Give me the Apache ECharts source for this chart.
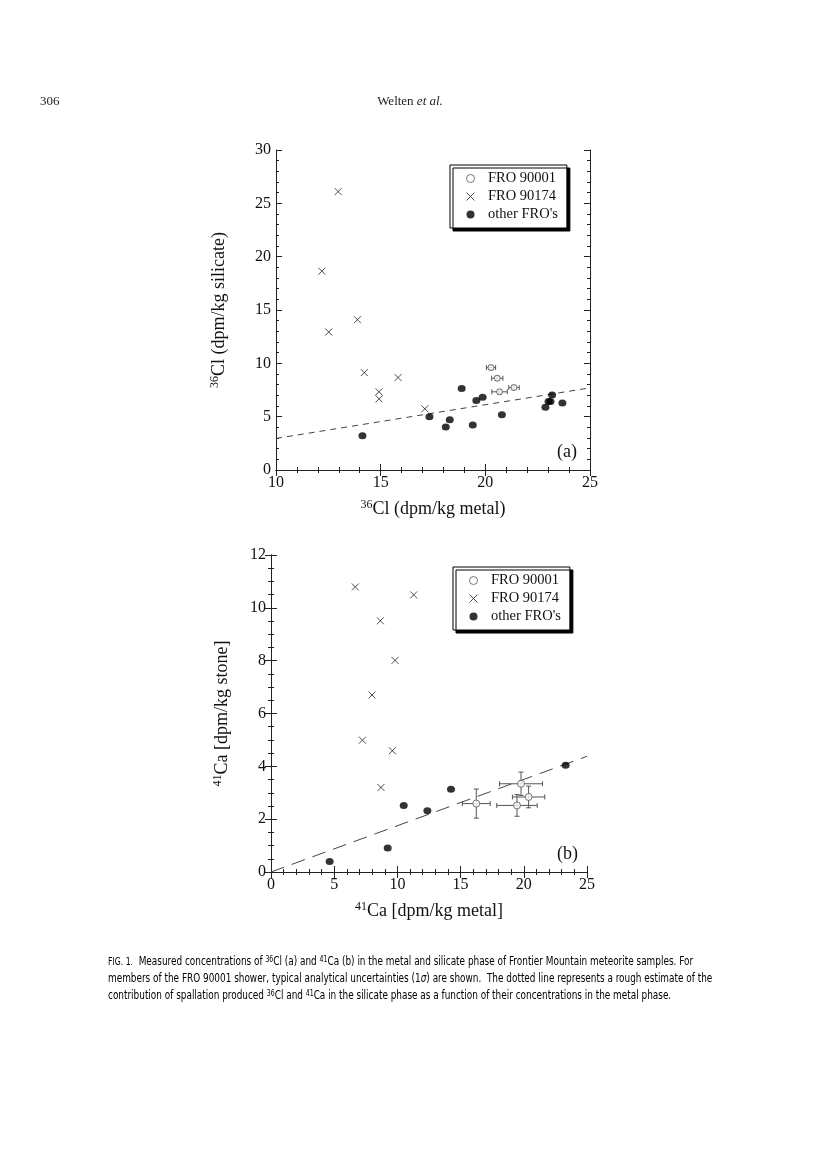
<!DOCTYPE html>
<html>
<head>
<meta charset="utf-8">
<script src="https://cdn.jsdelivr.net/npm/echarts@6/dist/echarts.min.js"></script>
<style>
html,body{margin:0;padding:0;background:#fff;}
#c{width:820px;height:1155px;}
</style>
</head>
<body>
<div id="c"></div>
<script>
// ---------- Panel (a): 36Cl ----------
const a_fro90001 = [[20.27, 9.6], [20.57, 8.6], [20.68, 7.33], [21.37, 7.73]];
const a_fro90001_xerr = [0.22, 0.27, 0.37, 0.25];
const a_fro90001_yerr = [0.2, 0.2, 0.2, 0.2];
const a_fro90174 = [[12.97, 26.1], [12.19, 18.64], [12.52, 12.94], [13.89, 14.09], [14.22, 9.13],
  [14.92, 7.33], [14.92, 6.67], [15.83, 8.67], [17.11, 5.74]];
const a_others = [[14.13, 3.21], [17.33, 4.99], [18.30, 4.71], [18.11, 4.02], [18.87, 7.64],
  [19.40, 4.21], [19.57, 6.51], [19.87, 6.83], [20.79, 5.17], [22.87, 5.89], [23.02, 6.42],
  [23.11, 6.42], [23.19, 7.04], [23.68, 6.27]];
const a_line = [[10, 2.96], [25, 7.7]];

// ---------- Panel (b): 41Ca ----------
const b_fro90001 = [[16.24, 2.59], [19.78, 3.34], [20.38, 2.84], [19.46, 2.52]];
const b_fro90001_xerr = [1.1, 1.7, 1.28, 1.6];
const b_fro90001_yerr = [0.55, 0.44, 0.41, 0.41];
const b_fro90174 = [[6.67, 10.79], [11.29, 10.49], [8.65, 9.51], [9.81, 8.01], [7.99, 6.70],
  [7.23, 4.99], [9.60, 4.59], [8.70, 3.20]];
const b_others = [[4.64, 0.40], [9.23, 0.91], [10.50, 2.52], [12.37, 2.32], [14.24, 3.13], [23.31, 4.04]];
const b_line = [[0, 0], [25, 4.38]];

const names = ['FRO 90001', 'FRO 90174', "other FRO's"];
const crossPath = 'path://M0,0L10,10M10,0L0,10';
const SERIF = "'Liberation Serif','Times New Roman',serif";

function errData(pts, xe, ye) {
  return pts.map((p, i) => [p[0], p[1], xe[i], ye[i]]);
}
function errRender(params, api) {
  const x = api.value(0), y = api.value(1), xe = api.value(2), ye = api.value(3);
  const c = api.coord([x, y]);
  const l = api.coord([x - xe, y]), r = api.coord([x + xe, y]);
  const t = api.coord([x, y + ye]), b = api.coord([x, y - ye]);
  const cap = 2.5;
  const st = {stroke: '#555', lineWidth: 1};
  return {type: 'group', children: [
    {type: 'line', shape: {x1: l[0], y1: c[1], x2: r[0], y2: c[1]}, style: st},
    {type: 'line', shape: {x1: l[0], y1: c[1] - cap, x2: l[0], y2: c[1] + cap}, style: st},
    {type: 'line', shape: {x1: r[0], y1: c[1] - cap, x2: r[0], y2: c[1] + cap}, style: st},
    {type: 'line', shape: {x1: c[0], y1: t[1], x2: c[0], y2: b[1]}, style: st},
    {type: 'line', shape: {x1: c[0] - cap, y1: t[1], x2: c[0] + cap, y2: t[1]}, style: st},
    {type: 'line', shape: {x1: c[0] - cap, y1: b[1], x2: c[0] + cap, y2: b[1]}, style: st}
  ]};
}

function axisBase(min, max, interval, split, showLabel, pos, grid) {
  return {
    type: 'value', gridIndex: grid, min: min, max: max, interval: interval, position: pos,
    axisLine: {show: true, lineStyle: {color: '#222', width: 1}},
    axisTick: {show: true, inside: true, length: 6, lineStyle: {color: '#222'}},
    minorTick: {show: true, splitNumber: split, length: 3, lineStyle: {color: '#222'}},
    splitLine: {show: false}, minorSplitLine: {show: false},
    axisLabel: {show: showLabel, color: '#111', fontFamily: SERIF, fontSize: 16, margin: 5}
  };
}

const rich = {
  sup: {fontSize: 12, fontFamily: SERIF, color: '#111', padding: [0, 0, 9, 0]},
  t: {fontSize: 18, fontFamily: SERIF, color: '#111'}
};

const xAxes = [
  Object.assign(axisBase(10, 25, 5, 5, true, 'bottom', 0), {
    name: '{sup|36}{t|Cl (dpm/kg metal)}', nameLocation: 'middle', nameGap: 29,
    nameTextStyle: {rich: rich}
  }),
  axisBase(10, 25, 5, 5, false, 'top', 0),
  Object.assign(axisBase(0, 25, 5, 5, true, 'bottom', 1), {
    name: '{sup|41}{t|Ca [dpm/kg metal]}', nameLocation: 'middle', nameGap: 29,
    nameTextStyle: {rich: rich}
  }),
  axisBase(0, 25, 5, 5, false, 'top', 1)
];
const yAxes = [
  Object.assign(axisBase(0, 30, 5, 5, true, 'left', 0), {
    name: '{sup|36}{t|Cl (dpm/kg silicate)}', nameLocation: 'middle', nameGap: 46, nameRotate: 90,
    nameTextStyle: {rich: rich}
  }),
  axisBase(0, 30, 5, 5, false, 'right', 0),
  Object.assign(axisBase(0, 12, 2, 4, true, 'left', 1), {
    name: '{sup|41}{t|Ca [dpm/kg stone]}', nameLocation: 'middle', nameGap: 38, nameRotate: 90,
    nameTextStyle: {rich: rich}
  }),
  axisBase(0, 12, 2, 4, false, 'right', 1)
];

function panelSeries(xi, yi, f1, f1xe, f1ye, f174, oth, line, dash, osize) {
  return [
    {type: 'line', xAxisIndex: xi, yAxisIndex: yi, data: line, symbol: 'none', silent: true,
      lineStyle: {color: '#444', width: 1, type: dash}, z: 1},
    {type: 'custom', xAxisIndex: xi, yAxisIndex: yi, data: errData(f1, f1xe, f1ye),
      renderItem: errRender, silent: true, z: 2},
    {name: names[0], type: 'scatter', xAxisIndex: xi, yAxisIndex: yi, data: f1, symbol: 'circle',
      symbolSize: osize, itemStyle: {color: '#fff', borderColor: '#555', borderWidth: 1}, z: 3},
    {name: names[1], type: 'scatter', xAxisIndex: xi, yAxisIndex: yi, data: f174, symbol: crossPath,
      symbolSize: 7, itemStyle: {color: 'none', borderColor: '#222', borderWidth: 1}, z: 3},
    {name: names[2], type: 'scatter', xAxisIndex: xi, yAxisIndex: yi, data: oth, symbol: 'circle',
      symbolSize: [8, 7], itemStyle: {color: '#000'}, z: 3}
  ];
}

function legendAt(left, top) {
  return {
    left: left, top: top, orient: 'vertical', itemGap: 3, itemWidth: 9, itemHeight: 8,
    padding: [6, 9, 6, 14], backgroundColor: '#fff', borderColor: '#000', borderWidth: 1,
    shadowColor: '#000', shadowBlur: 0, shadowOffsetX: 3, shadowOffsetY: 3,
    textStyle: {fontFamily: SERIF, fontSize: 14.5, color: '#111', padding: [0, 0, 0, 8]},
    selectedMode: false,
    data: [
      {name: names[0], icon: 'circle', itemStyle: {color: '#fff', borderColor: '#555', borderWidth: 1}},
      {name: names[1], icon: crossPath, itemStyle: {color: 'none', borderColor: '#222', borderWidth: 1}},
      {name: names[2], icon: 'circle', itemStyle: {color: '#000'}}
    ]
  };
}

function capRich() {
  const ff = "'Liberation Sans Narrow','DejaVu Sans Condensed','Arial Narrow',sans-serif";
  return {
    n: {fontFamily: ff, fontSize: 11.5, color: '#222'},
    sc: {fontFamily: ff, fontSize: 10, color: '#222'},
    g: {fontFamily: ff, fontSize: 11.5, fontStyle: 'italic', color: '#222'},
    s: {fontFamily: ff, fontSize: 8, color: '#222', padding: [0, 0, 5, 0]}
  };
}

const chart = echarts.init(document.getElementById('c'), null, {renderer: 'canvas'});
chart.setOption({
  backgroundColor: '#fff',
  animation: false,
  grid: [
    {left: 276, top: 150, width: 314, height: 320},
    {left: 271, top: 555, width: 316, height: 317}
  ],
  xAxis: xAxes,
  yAxis: yAxes,
  legend: [legendAt(450, 165), legendAt(453, 567)],
  series: [].concat(
    panelSeries(0, 0, a_fro90001, a_fro90001_xerr, a_fro90001_yerr, a_fro90174, a_others, a_line, [6, 5], 6),
    panelSeries(2, 2, b_fro90001, b_fro90001_xerr, b_fro90001_yerr, b_fro90174, b_others, b_line, [14, 8], 7)
  ),
  graphic: [
    {type: 'text', left: 40, top: 95, style: {text: '306', font: "13px 'Liberation Serif', serif", fill: '#222'}},
    {type: 'text', left: 'center', top: 95, style: {
      text: '{n|Welten }{i|et al.}',
      rich: {n: {font: "13px 'Liberation Serif', serif", fill: '#222'},
             i: {font: "italic 13px 'Liberation Serif', serif", fill: '#222'}}
    }},
    {type: 'text', left: 557, top: 443, style: {text: '(a)', font: "18px 'Liberation Serif', serif", fill: '#111'}},
    {type: 'text', left: 557, top: 845, style: {text: '(b)', font: "18px 'Liberation Serif', serif", fill: '#111'}},
    {type: 'group', x: 108, y: 956, scaleX: 0.86, children: [
      {type: 'text', x: 0, y: 0, style: {
        text: '{sc|FIG. 1.}{n|  Measured concentrations of }{s|36}{n|Cl (a) and }{s|41}{n|Ca (b) in the metal and silicate phase of Frontier Mountain meteorite samples. For}',
        rich: capRich()}},
      {type: 'text', x: 0, y: 17, style: {
        text: '{n|members of the FRO 90001 shower, typical analytical uncertainties (1}{g|σ}{n|) are shown.  The dotted line represents a rough estimate of the}',
        rich: capRich()}},
      {type: 'text', x: 0, y: 34, style: {
        text: '{n|contribution of spallation produced }{s|36}{n|Cl and }{s|41}{n|Ca in the silicate phase as a function of their concentrations in the metal phase.}',
        rich: capRich()}}
    ]}
  ]
});
</script>
</body>
</html>
